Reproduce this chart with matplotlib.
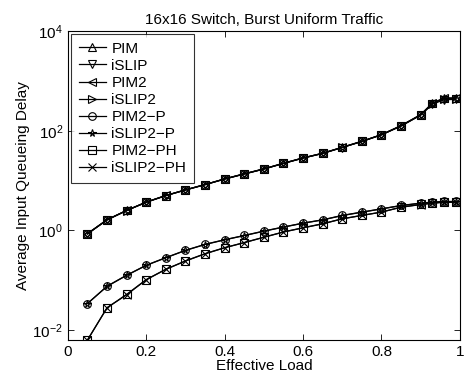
import numpy as np
import matplotlib
matplotlib.use('Agg')
import matplotlib.pyplot as plt

plt.rcParams['font.family'] = ['Liberation Sans', 'DejaVu Sans']

load = [0.05, 0.10, 0.15, 0.20, 0.25, 0.30, 0.35, 0.40, 0.45, 0.50, 0.55, 0.60,
        0.65, 0.70, 0.75, 0.80, 0.85, 0.90, 0.93, 0.96, 0.99]

# upper group: PIM / iSLIP / PIM2 / iSLIP2
pim = [0.86, 1.63, 2.51, 3.69, 5.0, 6.5, 8.3, 10.8, 13.6, 17.1, 22.2, 28.4,
       35.2, 46.4, 61.2, 83.2, 126, 209, 357, 450, 450]
islip = [0.85, 1.62, 2.50, 3.67, 4.98, 6.45, 8.25, 10.7, 13.5, 17.0, 22.0, 28.2,
         35.0, 46.0, 60.8, 82.5, 124, 205, 340, 420, 425]
pim2 = [0.86, 1.64, 2.52, 3.70, 5.02, 6.52, 8.32, 10.8, 13.7, 17.2, 22.3, 28.5,
        35.4, 46.6, 61.5, 83.6, 127, 211, 360, 455, 455]
islip2 = [0.85, 1.63, 2.50, 3.68, 4.99, 6.48, 8.28, 10.75, 13.55, 17.05, 22.1, 28.3,
          35.1, 46.2, 61.0, 83.0, 125, 207, 350, 440, 440]

# lower group: priority schemes
pim2_p = [0.034, 0.076, 0.126, 0.20, 0.284, 0.398, 0.525, 0.65, 0.79, 0.97, 1.17, 1.40,
          1.63, 2.0, 2.33, 2.71, 3.16, 3.52, 3.69, 3.8, 3.8]
islip2_p = [0.034, 0.075, 0.125, 0.198, 0.282, 0.395, 0.52, 0.645, 0.785, 0.96, 1.16, 1.39,
            1.62, 1.98, 2.31, 2.69, 3.14, 3.50, 3.67, 3.78, 3.78]
pim2_ph = [0.0063, 0.028, 0.052, 0.103, 0.166, 0.244, 0.341, 0.45, 0.57, 0.73, 0.93, 1.13,
           1.36, 1.71, 2.0, 2.33, 2.93, 3.31, 3.52, 3.69, 3.69]
islip2_ph = [0.0063, 0.028, 0.051, 0.102, 0.165, 0.242, 0.338, 0.447, 0.566, 0.725, 0.925, 1.12,
             1.35, 1.70, 1.99, 2.32, 2.91, 3.29, 3.50, 3.67, 3.67]

series = [('PIM', pim, '^'), ('iSLIP', islip, 'v'), ('PIM2', pim2, '<'),
          ('iSLIP2', islip2, '>'), ('PIM2\u2212P', pim2_p, 'o'),
          ('iSLIP2\u2212P', islip2_p, '*'), ('PIM2\u2212PH', pim2_ph, 's'),
          ('iSLIP2\u2212PH', islip2_ph, 'x')]

fig = plt.figure(figsize=(4.65, 3.79), dpi=100)
ax = fig.add_axes([0.146, 0.103, 0.843, 0.815])

for name, vals, m in series:
    ax.plot(load, vals, color='black', linewidth=0.9, marker=m, markersize=5.5,
            markerfacecolor='none', markeredgewidth=0.8, label=name)

ax.set_yscale('log')
ax.set_xlim(0, 1)
ax.set_ylim(10 ** -2.2, 1e4)
ax.set_xticks([0, 0.2, 0.4, 0.6, 0.8, 1])
ax.set_xticklabels(['0', '0.2', '0.4', '0.6', '0.8', '1'])
ax.set_yticks([1e-2, 1e0, 1e2, 1e4])
ax.minorticks_off()
ax.tick_params(direction='in', top=True, right=True, labelsize=11, length=4, width=0.6)
for s in ax.spines.values():
    s.set_linewidth(0.8)

ax.set_xlabel('Effective Load', fontsize=11, labelpad=0)
ax.set_ylabel('Average Input Queueing Delay', fontsize=11, labelpad=2)
ax.set_title('16x16 Switch, Burst Uniform Traffic', fontsize=11, pad=5)

leg = ax.legend(loc='upper left', fontsize=11, frameon=True, fancybox=False,
                edgecolor='black', handlelength=1.8, borderaxespad=0.2,
                borderpad=0.5, labelspacing=0.2, handletextpad=0.35)
leg.get_frame().set_linewidth(0.8)

fig.savefig('out.png', dpi=100)
